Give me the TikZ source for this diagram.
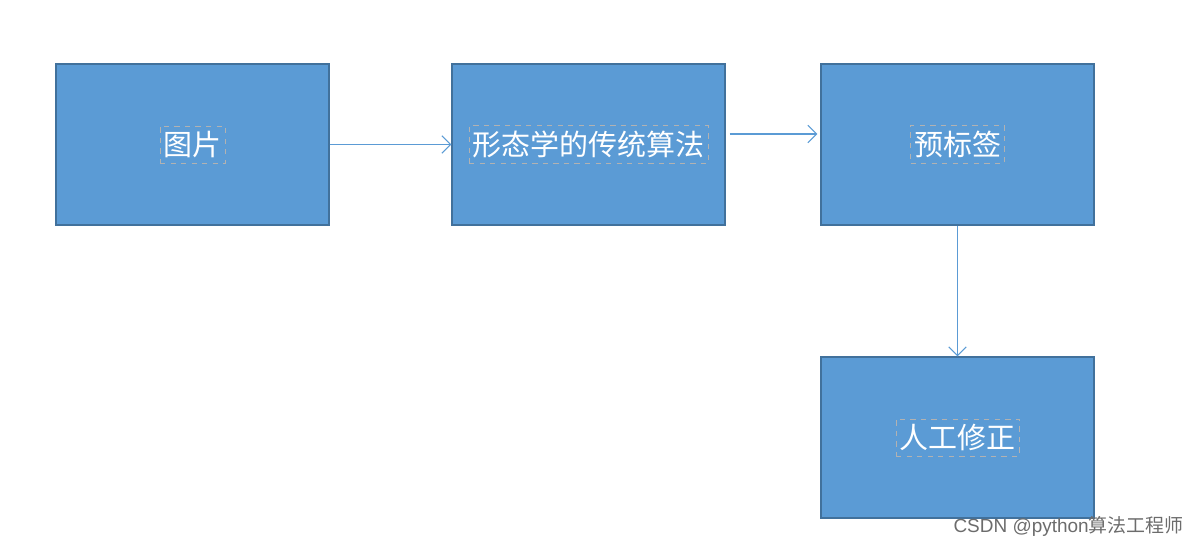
\documentclass[tikz,border=0pt]{standalone}
\usepackage{fontspec}
\setmainfont{Noto Sans CJK SC}
\newfontfamily\wmfont{Liberation Sans}
\newfontfamily\cjk{Noto Sans CJK SC}
\usetikzlibrary{arrows.meta}
\definecolor{boxfill}{HTML}{5B9BD5}
\definecolor{boxline}{HTML}{41719C}
\definecolor{arrowc}{HTML}{5B9BD5}
\tikzset{
  procbox/.style={draw=boxline, fill=boxfill, line width=0.7pt, minimum width=273*0.02cm, minimum height=161*0.02cm, inner sep=0pt},
  lbl/.style={text=white, font=\fontsize{16.5}{18}\selectfont, draw=gray!60, dashed, line width=0.4pt, inner xsep=2pt, inner ysep=3pt},
  conn/.style={draw=arrowc, line width=0.6pt, -{Straight Barb[length=5pt,width=10pt]}}
}
\begin{document}
\begin{tikzpicture}[x=0.02cm,y=-0.02cm]
\useasboundingbox (0,0) rectangle (1198,546);
\node[procbox] (b1) at (192.5,144.5) {};
\node[procbox] (b2) at (588.5,144.5) {};
\node[procbox] (b3) at (957.5,144.5) {};
\node[procbox] (b4) at (957.5,437.5) {};
\node[lbl] (t1) at (b1.center) {图片};
\node[lbl] (t2) at (b2.center) {形态学的传统算法};
\node[lbl] (t3) at (b3.center) {预标签};
\node[lbl] (t4) at (b4.center) {人工修正};
\draw[conn] (b1.east) -- (b2.west);
\draw[conn] ([xshift=4*0.02cm,yshift=10.5*0.02cm]b2.east) -- ([xshift=-3*0.02cm,yshift=10.5*0.02cm]b3.west);
\draw[conn] (b3.south) -- (b4.north);
\node[anchor=east, inner sep=0pt, text=gray!85!black, font=\fontsize{10.8}{13}\selectfont] (wm) at (1184,526) {{\wmfont CSDN @python}{\cjk 算法工程师}};
\end{tikzpicture}
\end{document}
